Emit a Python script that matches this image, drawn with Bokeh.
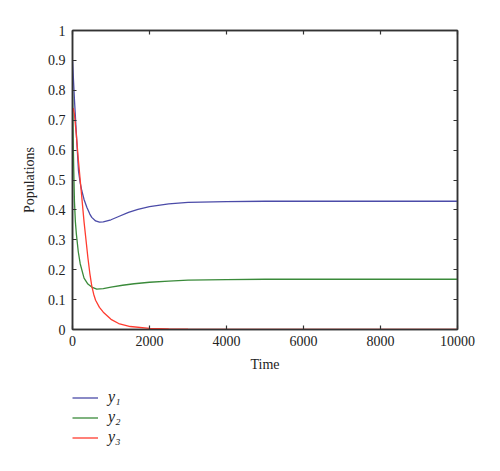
from bokeh.plotting import figure
from bokeh.models import LinearAxis, Range1d, Legend, LegendItem, FixedTicker
from bokeh.layouts import column
from bokeh.embed import file_html
from bokeh.resources import INLINE

# ---- data ----
t_y1 = [0, 50, 100, 156, 200, 242, 300, 372, 450, 500, 600, 700, 800, 1000, 1200, 1455, 1700, 2000, 2500, 3000, 4000, 5000, 6000, 8000, 10000]
y1 = [0.90, 0.77, 0.655, 0.53, 0.49, 0.464, 0.435, 0.409, 0.386, 0.375, 0.363, 0.359, 0.360, 0.367, 0.378, 0.392, 0.402, 0.411, 0.420, 0.425, 0.428, 0.429, 0.429, 0.429, 0.429]

t_y2 = [0, 15, 30, 50, 75, 100, 150, 200, 300, 400, 500, 630, 800, 1000, 1300, 1600, 2000, 2500, 3000, 4000, 5000, 6000, 8000, 10000]
y2 = [0.80, 0.66, 0.55, 0.43, 0.36, 0.32, 0.26, 0.22, 0.172, 0.152, 0.142, 0.135, 0.137, 0.142, 0.148, 0.153, 0.158, 0.162, 0.165, 0.167, 0.168, 0.168, 0.168, 0.168]

t_y3 = [0, 20, 50, 100, 150, 200, 250, 300, 350, 400, 450, 500, 550, 600, 700, 800, 1000, 1200, 1500, 2000, 2500, 3000, 4000, 6000, 8000, 10000]
y3 = [0.73, 0.74, 0.72, 0.65, 0.57, 0.50, 0.43, 0.36, 0.30, 0.24, 0.188, 0.146, 0.118, 0.098, 0.074, 0.058, 0.034, 0.020, 0.010, 0.004, 0.002, 0.001, 0.0, 0.0, 0.0, 0.0]

x_ticks = [0, 2000, 4000, 6000, 8000, 10000]
y_ticks = [0, 0.1, 0.2, 0.3, 0.4, 0.5, 0.6, 0.7, 0.8, 0.9, 1]
y_tick_labels = {0: "0", 0.1: "0.1", 0.2: "0.2", 0.3: "0.3", 0.4: "0.4", 0.5: "0.5",
                 0.6: "0.6", 0.7: "0.7", 0.8: "0.8", 0.9: "0.9", 1: "1"}
series_names = ["y\u2081", "y\u2082", "y\u2083"]
series_colors = ["#4b4ba8", "#3a8a3a", "#ff3b2f"]
series_t = [t_y1, t_y2, t_y3]
series_y = [y1, y2, y3]

FONT = "Liberation Serif"
AXIS_COLOR = "#333333"

p = figure(frame_width=385, frame_height=299,
           output_backend="svg", toolbar_location=None,
           x_range=Range1d(0, 10000), y_range=Range1d(0, 1),
           min_border_left=72, min_border_right=30, min_border_top=30, min_border_bottom=50,
           x_axis_label="Time", y_axis_label="Populations")
p.grid.visible = False
p.outline_line_color = AXIS_COLOR
p.outline_line_width = 1.5
p.background_fill_color = "white"
p.border_fill_color = "white"

def style_axis(ax, labels=True):
    ax.major_tick_in = 4
    ax.major_tick_out = 0
    ax.minor_tick_in = 0
    ax.minor_tick_out = 0
    ax.axis_line_color = AXIS_COLOR
    ax.axis_line_width = 1.5
    ax.major_tick_line_color = AXIS_COLOR
    ax.major_tick_line_width = 1.2
    ax.major_label_text_font = FONT
    ax.major_label_text_font_size = "14px"
    ax.major_label_text_color = "#222222" if labels else None
    ax.axis_label_text_font = FONT
    ax.axis_label_text_font_size = "14px"
    ax.axis_label_text_font_style = "normal"
    ax.axis_label_text_color = "#222222"

p.xaxis.ticker = FixedTicker(ticks=x_ticks)
p.yaxis.ticker = FixedTicker(ticks=y_ticks)
p.yaxis.major_label_overrides = y_tick_labels
for ax in p.xaxis + p.yaxis:
    style_axis(ax)
p.xaxis.major_label_standoff = 6
p.xaxis.axis_label_standoff = 8
p.yaxis.major_label_standoff = 7
p.yaxis.axis_label_standoff = 8

top = LinearAxis(ticker=FixedTicker(ticks=x_ticks))
right = LinearAxis(ticker=FixedTicker(ticks=y_ticks))
style_axis(top, labels=False)
style_axis(right, labels=False)
top.major_label_text_font_size = "0px"
right.major_label_text_font_size = "0px"
p.add_layout(top, "above")
p.add_layout(right, "right")

for t, y, c in zip(series_t, series_y, series_colors):
    p.line(t, y, line_color=c, line_width=1.3)

# legend panel below the chart (its lines lie outside its own view; only the key is seen)
p2 = figure(width=487, height=76, output_backend="svg", toolbar_location=None,
            x_range=Range1d(-20000, -15000), y_range=Range1d(0, 1),
            min_border_left=72, min_border_right=0, min_border_top=0, min_border_bottom=0,
            x_axis_location=None, y_axis_location=None)
p2.grid.visible = False
p2.outline_line_color = None
items = []
for t, y, c, name in zip(series_t, series_y, series_colors, series_names):
    r = p2.line(t, y, line_color=c, line_width=1.3)
    items.append(LegendItem(label=name, renderers=[r]))

legend = Legend(items=items, location=(0, 9), orientation="vertical")
legend.label_text_font = FONT
legend.label_text_font_size = "16px"
legend.label_text_font_style = "italic"
legend.label_text_color = "#222222"
legend.glyph_width = 26
legend.glyph_height = 17
legend.label_height = 17
legend.spacing = 2
legend.label_standoff = 10
legend.padding = 0
legend.margin = 0
legend.border_line_color = None
legend.background_fill_alpha = 0
p2.add_layout(legend, "center")

layout = column(p, p2, spacing=0)
open("out.html", "w").write(file_html(layout, INLINE))
